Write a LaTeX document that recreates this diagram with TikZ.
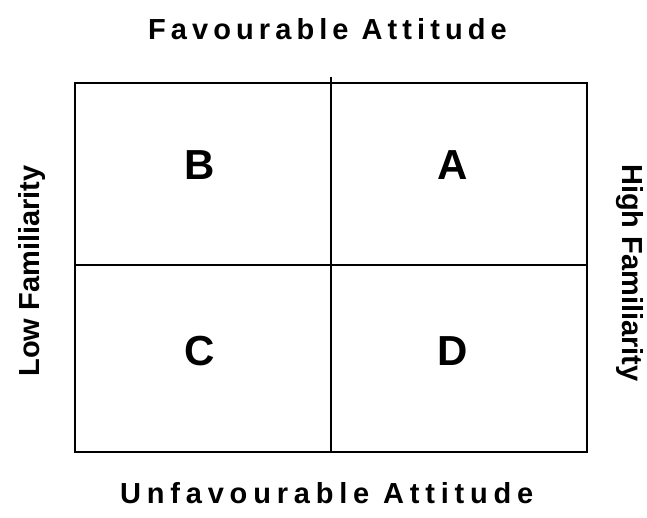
\documentclass[tikz,border=0pt]{standalone}
\usepackage{fontspec}
\setmainfont{Liberation Sans}
\newfontfamily\spacedfont[LetterSpace=17.5]{Liberation Sans}
\newfontfamily\widefont[LetterSpace=20]{Liberation Sans}
\usetikzlibrary{positioning}

\begin{document}
\begin{tikzpicture}[
  x=1pt,y=-1pt,
  font=\bfseries,
  axis/.style={inner sep=0pt,font=\fontsize{29}{34}\selectfont\bfseries},
  head/.style={inner sep=0pt,anchor=base west,font=\fontsize{29}{34}\selectfont\spacedfont\bfseries},
  cell/.style={inner sep=0pt,anchor=base,font=\fontsize{42}{48}\selectfont\bfseries},
  grid/.style={line width=2pt,draw=black}
]
\useasboundingbox (0,0) rectangle (647,518);

% frame and quadrants
\draw[grid] (75,83) rectangle (587,452);
\coordinate (top) at (331,77);
\coordinate (bot) at (331,452);
\coordinate (lft) at (75,265);
\coordinate (rgt) at (587,265);
\draw[grid] (top) -- (bot);
\draw[grid] (lft) -- (rgt);

% quadrant letters
\node[cell] (qb) at (200,180) {B};
\node[cell] (qa) at (453,180) {A};
\node[cell] (qc) at (200,365) {C};
\node[cell] (qd) at (453,365) {D};

% axis labels
\node[head] (fav) at (148,40) {Favourable Attitude};
\node[head,font=\fontsize{29}{34}\selectfont\widefont\bfseries] (unfav) at (120,503) {Unfavourable Attitude};
\node[axis,rotate=90,anchor=base] (low) at (39,271) {Low Familiarity};
\node[axis,rotate=-90,anchor=base] (high) at (622,273) {High Familiarity};

\end{tikzpicture}
\end{document}
